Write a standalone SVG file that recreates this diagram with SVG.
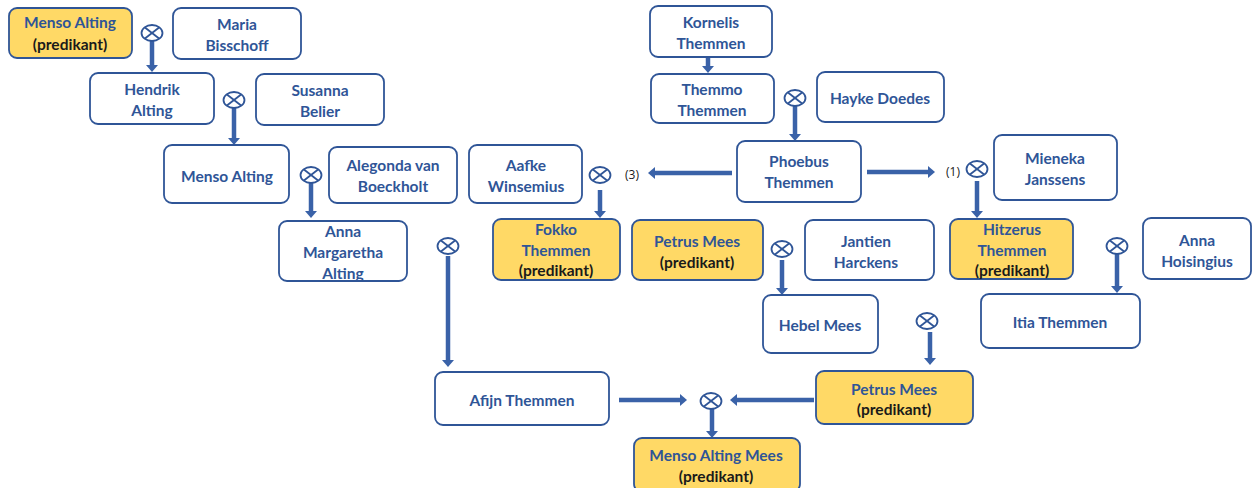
<svg xmlns="http://www.w3.org/2000/svg" width="1253" height="488" viewBox="0 0 1253 488">
<style>
.box{fill:#ffffff;stroke:#2f5597;stroke-width:1.8}
.pred{fill:#ffd966}
.t{font-family:Lato,"Liberation Sans",sans-serif;font-weight:bold;font-size:15.5px;fill:#2f5597;text-anchor:middle;dominant-baseline:central}
.k{fill:#1a1a1a}
.lbl{font-family:"Open Sans","Liberation Sans",sans-serif;font-size:12px;fill:#1a1a1a;text-anchor:middle;dominant-baseline:central}
.ar{stroke:#3a62a8;stroke-width:4.5;fill:none;marker-end:url(#ah)}
.mar ellipse{fill:#ffffff;stroke:#2f5597;stroke-width:1.8}
.mar line{stroke:#2f5597;stroke-width:1.8}
</style>
<defs>
<marker id="ah" viewBox="0 0 7 12" refX="0" refY="6" markerWidth="7" markerHeight="12" markerUnits="userSpaceOnUse" orient="auto">
<path d="M0,0 L7,6 L0,12 Z" fill="#3a62a8"/>
</marker>
<g id="m" class="mar">
<ellipse cx="0" cy="0" rx="10.5" ry="8"/>
<line x1="-7.4" y1="-5.7" x2="7.4" y2="5.7"/>
<line x1="-7.4" y1="5.7" x2="7.4" y2="-5.7"/>
</g>
</defs>
<rect width="1253" height="488" fill="#ffffff"/>
<g id="connectors">
<line class="ar" x1="152" y1="41" x2="152" y2="65"/>
<line class="ar" x1="234" y1="108" x2="234" y2="138"/>
<line class="ar" x1="311" y1="183" x2="311" y2="211"/>
<line class="ar" x1="708" y1="57" x2="708" y2="66"/>
<line class="ar" x1="795" y1="106" x2="795" y2="134"/>
<line class="ar" x1="600" y1="190" x2="600" y2="211"/>
<line class="ar" x1="977" y1="181" x2="977" y2="211"/>
<line class="ar" x1="782" y1="260" x2="782" y2="288"/>
<line class="ar" x1="1117" y1="254" x2="1117" y2="286"/>
<line class="ar" x1="448" y1="256" x2="448" y2="360"/>
<line class="ar" x1="930" y1="332" x2="930" y2="358"/>
<line class="ar" x1="712" y1="409" x2="712" y2="431"/>
<line class="ar" x1="732" y1="173" x2="655" y2="173"/>
<line class="ar" x1="867" y1="172" x2="928" y2="172"/>
<line class="ar" x1="619" y1="400" x2="680" y2="400"/>
<line class="ar" x1="814" y1="400" x2="737" y2="400"/>
</g>
<g id="marriages">
<use href="#m" x="152" y="33"/>
<use href="#m" x="234" y="100"/>
<use href="#m" x="311" y="175"/>
<use href="#m" x="795" y="98"/>
<use href="#m" x="600" y="175"/>
<use href="#m" x="977" y="169"/>
<use href="#m" x="782" y="249"/>
<use href="#m" x="1117" y="246"/>
<use href="#m" x="448" y="246"/>
<use href="#m" x="927" y="321"/>
<use href="#m" x="711" y="401"/>
</g>
<g id="labels">
<text class="lbl" x="632" y="174">(3)</text>
<text class="lbl" x="953" y="171">(1)</text>
</g>
<g id="n1"><rect class="box pred" x="9" y="8" width="123" height="50" rx="8"/><text class="t" x="70" y="22">Menso Alting</text><text class="t k" x="70" y="44">(predikant)</text></g>
<g id="n2"><rect class="box" x="173" y="8" width="128" height="51" rx="8"/><text class="t" x="237" y="24">Maria</text><text class="t" x="237" y="45">Bisschoff</text></g>
<g id="n3"><rect class="box" x="90" y="73" width="124" height="51" rx="8"/><text class="t" x="152" y="89">Hendrik</text><text class="t" x="152" y="110">Alting</text></g>
<g id="n4"><rect class="box" x="256" y="74" width="128" height="51" rx="8"/><text class="t" x="320" y="90">Susanna</text><text class="t" x="320" y="111">Belier</text></g>
<g id="n5"><rect class="box" x="164" y="145" width="125" height="58" rx="8"/><text class="t" x="227" y="176">Menso Alting</text></g>
<g id="n6"><rect class="box" x="329" y="147" width="128" height="56" rx="8"/><text class="t" x="393" y="165">Alegonda van</text><text class="t" x="393" y="186">Boeckholt</text></g>
<g id="n7"><rect class="box" x="279" y="221" width="128" height="60" rx="8"/><text class="t" x="343" y="231">Anna</text><text class="t" x="343" y="252">Margaretha</text><text class="t" x="343" y="273">Alting</text></g>
<g id="n8"><rect class="box" x="650" y="6" width="122" height="51" rx="8"/><text class="t" x="711" y="22">Kornelis</text><text class="t" x="711" y="43">Themmen</text></g>
<g id="n9"><rect class="box" x="651" y="74" width="123" height="49" rx="8"/><text class="t" x="712" y="89">Themmo</text><text class="t" x="712" y="110">Themmen</text></g>
<g id="n10"><rect class="box" x="817" y="72" width="127" height="50" rx="8"/><text class="t" x="880" y="98">Hayke Doedes</text></g>
<g id="n11"><rect class="box" x="737" y="141" width="124" height="61" rx="8"/><text class="t" x="799" y="161">Phoebus</text><text class="t" x="799" y="182">Themmen</text></g>
<g id="n12"><rect class="box" x="469" y="145" width="113" height="58" rx="8"/><text class="t" x="526" y="165">Aafke</text><text class="t" x="526" y="186">Winsemius</text></g>
<g id="n13"><rect class="box pred" x="493" y="219" width="127" height="61" rx="8"/><text class="t" x="556" y="229">Fokko</text><text class="t" x="556" y="250">Themmen</text><text class="t k" x="556" y="270">(predikant)</text></g>
<g id="n14"><rect class="box pred" x="632" y="220" width="131" height="60" rx="8"/><text class="t" x="697" y="241">Petrus Mees</text><text class="t k" x="697" y="262">(predikant)</text></g>
<g id="n15"><rect class="box" x="805" y="220" width="129" height="60" rx="8"/><text class="t" x="866" y="241">Jantien</text><text class="t" x="866" y="262">Harckens</text></g>
<g id="n16"><rect class="box" x="994" y="135" width="123" height="65" rx="8"/><text class="t" x="1055" y="158">Mieneka</text><text class="t" x="1055" y="179">Janssens</text></g>
<g id="n17"><rect class="box pred" x="950" y="219" width="123" height="60" rx="8"/><text class="t" x="1012" y="229">Hitzerus</text><text class="t" x="1012" y="250">Themmen</text><text class="t k" x="1012" y="270">(predikant)</text></g>
<g id="n18"><rect class="box" x="1143" y="218" width="108" height="61" rx="8"/><text class="t" x="1197" y="240">Anna</text><text class="t" x="1197" y="261">Hoisingius</text></g>
<g id="n19"><rect class="box" x="981" y="294" width="159" height="54" rx="8"/><text class="t" x="1060" y="322">Itia Themmen</text></g>
<g id="n20"><rect class="box" x="763" y="295" width="115" height="58" rx="8"/><text class="t" x="820" y="325">Hebel Mees</text></g>
<g id="n21"><rect class="box" x="435" y="372" width="174" height="53" rx="8"/><text class="t" x="522" y="400">Afijn Themmen</text></g>
<g id="n22"><rect class="box pred" x="816" y="371" width="157" height="53" rx="8"/><text class="t" x="894" y="389">Petrus Mees</text><text class="t k" x="894" y="409">(predikant)</text></g>
<g id="n23"><rect class="box pred" x="634" y="438" width="166" height="54" rx="8"/><text class="t" x="716" y="455">Menso Alting Mees</text><text class="t k" x="716" y="476">(predikant)</text></g>
</svg>
